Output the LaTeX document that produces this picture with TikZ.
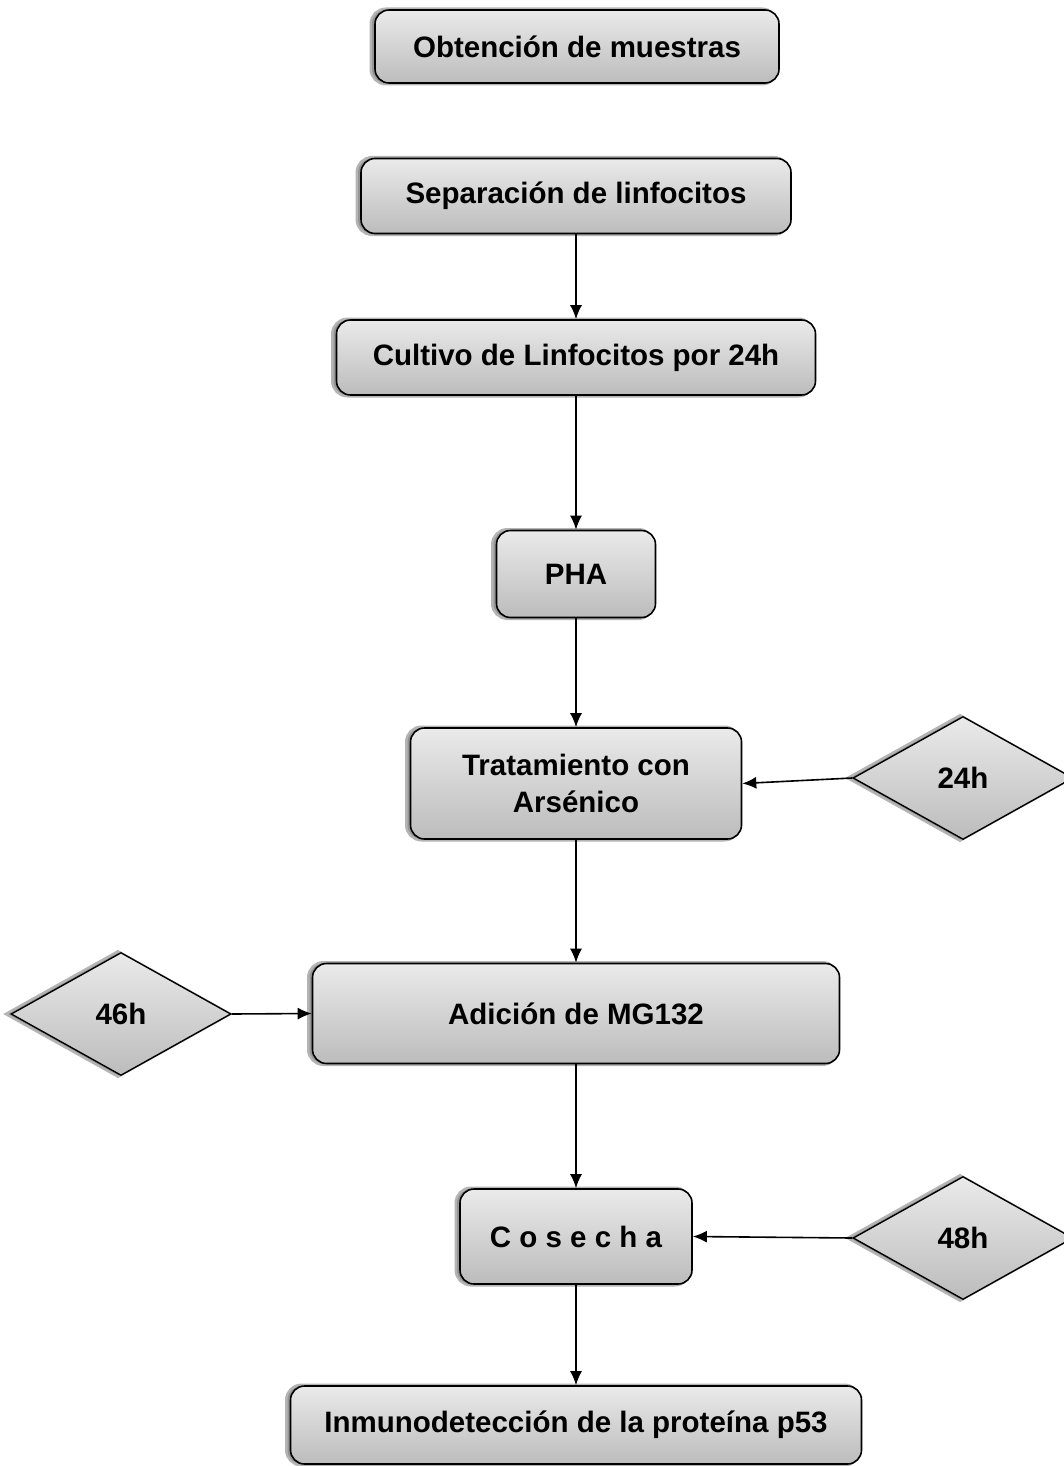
\documentclass[tikz,border=0pt]{standalone}
\usepackage{fontspec}
\setmainfont{Liberation Sans}
\usetikzlibrary{shapes.geometric,shadows,arrows.meta}
\definecolor{topg}{RGB}{234,234,234}
\definecolor{botg}{RGB}{188,188,188}
\definecolor{shd}{RGB}{130,130,130}
\begin{document}
\begin{tikzpicture}[x=1pt,y=-1pt,
  lbl/.style={font=\bfseries\fontsize{29.5}{37}\selectfont, align=center},
  box/.style={lbl, draw=black, line width=1.6pt, rounded corners=14pt,
    top color=topg, bottom color=botg, inner sep=0pt,
    general shadow={fill=shd, draw=shd, line width=5pt, shadow xshift=-3pt, opacity=0.6}},
  dia/.style={lbl, diamond, draw=black, line width=1.4pt, inner sep=0pt,
    top color=topg, bottom color=botg, minimum width=220pt, minimum height=123pt,
    general shadow={fill=shd, draw=shd, line width=5pt, shadow xshift=-3pt, opacity=0.6}},
  arr/.style={-{Latex[length=14pt,width=12pt]}, line width=1.6pt}]
\useasboundingbox (0,0) rectangle (1064,1466);
\node[box, minimum width=404pt, minimum height=73pt] (obt) at (577,46.5) {Obtención de muestras};
\node[box, minimum width=430pt, minimum height=75pt] (sep) at (576,196) {Separación de linfocitos};
\node[box, minimum width=479pt, minimum height=75pt] (cul) at (576,357.5) {Cultivo de Linfocitos por 24h};
\node[box, minimum width=159pt, minimum height=87pt] (pha) at (576,574) {PHA};
\node[box, minimum width=331pt, minimum height=111pt] (tra) at (576,783.5) {Tratamiento con\\Arsénico};
\node[box, minimum width=527pt, minimum height=100pt] (adi) at (576,1013.5) {Adición de MG132};
\node[box, minimum width=232pt, minimum height=95pt] (cos) at (576,1236.5) {C o s e c h a};
\node[box, minimum width=571pt, minimum height=78pt] (inm) at (576,1425) {Inmunodetección de la proteína p53};
\node[dia] (d24) at (963,778) {24h};
\node[dia] (d46) at (121,1014) {46h};
\node[dia] (d48) at (963,1238) {48h};
\draw[arr] (sep) -- (cul);
\draw[arr] (cul) -- (pha);
\draw[arr] (pha) -- (tra);
\draw[arr] (tra) -- (adi);
\draw[arr] (adi) -- (cos);
\draw[arr] (cos) -- (inm);
\draw[arr] (d24.west) -- (tra.east);
\draw[arr] (d46.east) -- (adi.west);
\draw[arr] (d48.west) -- (cos.east);
\end{tikzpicture}
\end{document}
